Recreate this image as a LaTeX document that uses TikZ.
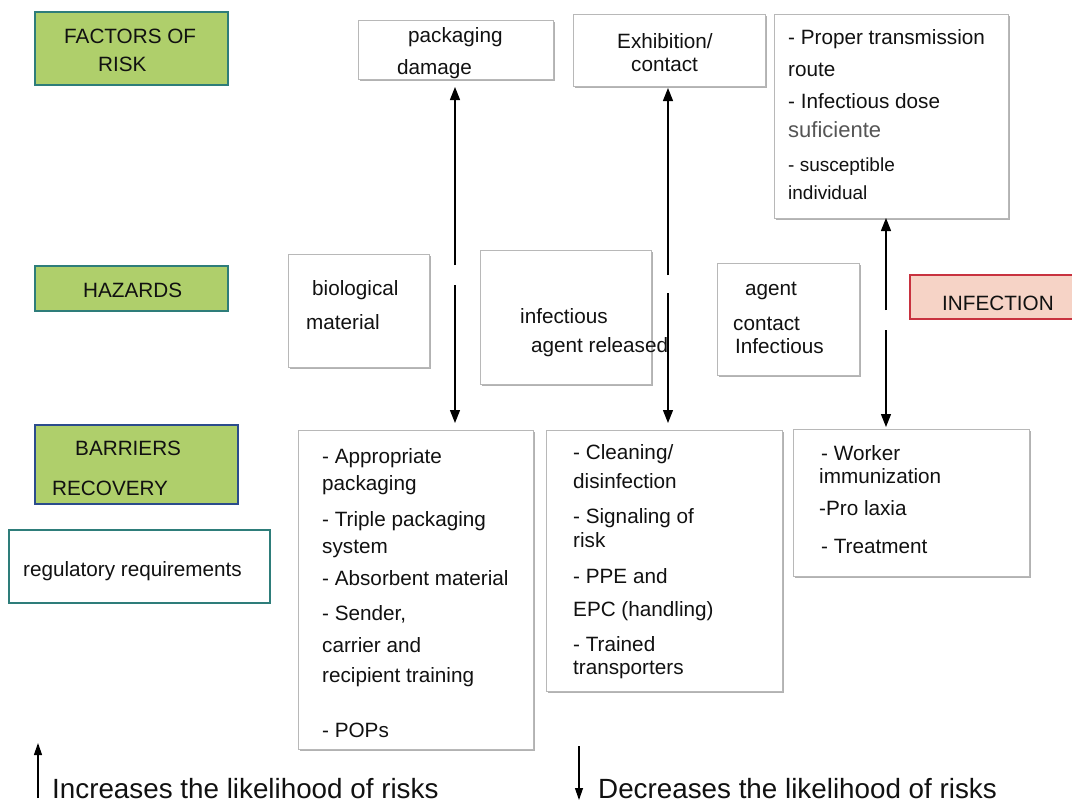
\documentclass[tikz,border=0pt]{standalone}
\usepackage{fontspec}
\setmainfont{Liberation Sans}
\usetikzlibrary{arrows.meta,shadows}
\definecolor{grn}{HTML}{AFCF6B}
\definecolor{teal2}{HTML}{2E7D7A}
\definecolor{navy2}{HTML}{2B4C8C}
\definecolor{pinkf}{HTML}{F6D3C6}
\definecolor{redb}{HTML}{C8323F}
\definecolor{txtc}{HTML}{111111}
\definecolor{grytxt}{HTML}{555555}
\begin{document}
\begin{tikzpicture}[x=1pt,y=-1pt,
 box/.style={anchor=north west, inner sep=0pt, outer sep=0pt},
 wbox/.style={box, fill=white, draw=black!28, line width=0.8pt,
   drop shadow={shadow xshift=2pt, shadow yshift=-2pt, fill=black, opacity=0.3}},
 gbox/.style={box, fill=grn, draw=teal2, line width=1.2pt},
 tx/.style={anchor=base west, inner sep=0pt, text=txtc, font=\fontsize{20.7pt}{24pt}\selectfont},
 sm/.style={tx, font=\fontsize{19pt}{22pt}\selectfont},
 gr/.style={tx, text=grytxt, font=\fontsize{22pt}{26pt}\selectfont},
 big/.style={tx, font=\fontsize{27.8pt}{32pt}\selectfont},
 arr/.style={line width=1.2pt, -{Triangle[width=10pt,length=13pt]}},
 larr/.style={line width=1.2pt, -{Triangle[width=8pt,length=12pt]}},
]
\useasboundingbox (0,0) rectangle (1072,804);

% ---- left category boxes
\node[gbox, minimum width=193pt, minimum height=73pt] (fr) at (35,12) {};
\node[tx] (frt1) at (64,43) {FACTORS OF};
\node[tx] (frt2) at (98,71) {RISK};

\node[gbox, minimum width=193pt, minimum height=45pt] (hz) at (35,266) {};
\node[tx] (hzt) at (83,297) {HAZARDS};

\node[gbox, draw=navy2, minimum width=203pt, minimum height=79pt] (br) at (35,425) {};
\node[tx] (brt1) at (75,455) {BARRIERS};
\node[tx] (brt2) at (52,495) {RECOVERY};

\node[box, fill=white, draw=teal2, line width=1.2pt, minimum width=261pt, minimum height=73pt] (rg) at (9,530) {};
\node[tx] (rgt) at (23,576) {regulatory requirements};

% ---- factors of risk row
\node[wbox, minimum width=195pt, minimum height=59pt] (pk) at (358,20) {};
\node[tx] (pkt1) at (408,42) {packaging};
\node[tx] (pkt2) at (397,74) {damage};

\node[wbox, minimum width=192pt, minimum height=72pt] (ex) at (573,14) {};
\node[tx] (ext1) at (617,48) {Exhibition/};
\node[tx] (ext2) at (631,71) {contact};

\node[wbox, minimum width=234pt, minimum height=204pt] (pr) at (774,14) {};
\node[tx] (prt1) at (788,44) {- Proper transmission};
\node[tx] (prt2) at (788,76) {route};
\node[tx] (prt3) at (788,108) {- Infectious dose};
\node[gr] (prt4) at (788,137) {suficiente};
\node[sm] (prt5) at (788,171) {- susceptible};
\node[sm] (prt6) at (788,199) {individual};

% ---- hazards row
\node[wbox, minimum width=141pt, minimum height=113pt] (bm) at (288,254) {};
\node[tx] (bmt1) at (312,295) {biological};
\node[tx] (bmt2) at (306,329) {material};

\node[wbox, minimum width=171pt, minimum height=134pt] (ia) at (480,250) {};
\node[tx] (iat1) at (520,323) {infectious};
\node[tx] (iat2) at (531,352) {agent released};

\node[wbox, minimum width=142pt, minimum height=112pt] (ac) at (717,263) {};
\node[tx] (act1) at (745,295) {agent};
\node[tx] (act2) at (733,330) {contact};
\node[tx] (act3) at (735,353) {Infectious};

\node[box, fill=pinkf, draw=redb, line width=1.2pt, minimum width=180pt, minimum height=44pt] (inf) at (910,275) {};
\node[tx] (inft) at (942,310) {INFECTION};

% ---- barriers row
\node[wbox, minimum width=235pt, minimum height=319pt] (b1) at (298,430) {};
\node[tx] (b1t1) at (322,463) {- Appropriate};
\node[tx] (b1t2) at (322,490) {packaging};
\node[tx] (b1t3) at (322,526) {- Triple packaging};
\node[tx] (b1t4) at (322,553) {system};
\node[tx] (b1t5) at (322,585) {- Absorbent material};
\node[tx] (b1t6) at (322,620) {- Sender,};
\node[tx] (b1t7) at (322,652) {carrier and};
\node[tx] (b1t8) at (322,682) {recipient training};
\node[tx] (b1t9) at (322,737) {- POPs};

\node[wbox, minimum width=236pt, minimum height=261pt] (b2) at (546,430) {};
\node[tx] (b2t1) at (573,459) {- Cleaning/};
\node[tx] (b2t2) at (573,488) {disinfection};
\node[tx] (b2t3) at (573,523) {- Signaling of};
\node[tx] (b2t4) at (573,547) {risk};
\node[tx] (b2t5) at (573,583) {- PPE and};
\node[tx] (b2t6) at (573,616) {EPC (handling)};
\node[tx] (b2t7) at (573,651) {- Trained};
\node[tx] (b2t8) at (573,674) {transporters};

\node[wbox, minimum width=236pt, minimum height=147pt] (b3) at (793,429) {};
\node[tx] (b3t1) at (821,460) {- Worker};
\node[tx] (b3t2) at (819,483) {immunization};
\node[tx] (b3t3) at (819,515) {-Pro laxia};
\node[tx] (b3t4) at (821,553) {- Treatment};

% ---- double arrows (split with a gap)
\coordinate (g1u) at (455,265);
\coordinate (g1d) at (455,285);
\draw[arr, shorten >=8pt] (g1u) -- (pk.south -| g1u);
\draw[arr, shorten >=7pt] (g1d) -- (b1.north -| g1d);

\coordinate (g2u) at (668,275);
\coordinate (g2d) at (668,293);
\draw[arr, shorten >=2pt] (g2u) -- (ex.south -| g2u);
\draw[arr, shorten >=7pt] (g2d) -- (b2.north -| g2d);

\coordinate (g3u) at (886,310);
\coordinate (g3d) at (886,330);
\draw[arr] (g3u) -- (pr.south -| g3u);
\draw[arr, shorten >=2pt] (g3d) -- (b3.north -| g3d);

% ---- legend
\coordinate (lu0) at (38,798);
\coordinate (lu1) at (38,743);
\draw[larr] (lu0) -- (lu1);
\node[big] (lgu) at (52,798) {Increases the likelihood of risks};
\coordinate (ld0) at (579,746);
\coordinate (ld1) at (579,800);
\draw[larr] (ld0) -- (ld1);
\node[big] (lgd) at (598,798) {Decreases the likelihood of risks};
\end{tikzpicture}
\end{document}
